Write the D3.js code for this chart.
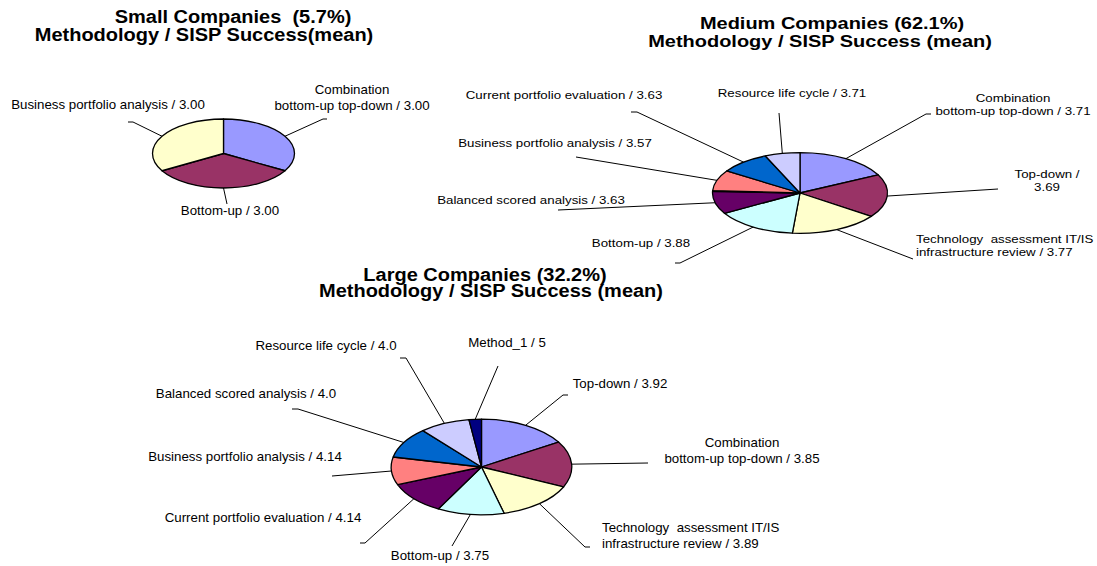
<!DOCTYPE html>
<html>
<head>
<meta charset="utf-8">
<script src="https://cdn.jsdelivr.net/npm/d3@7"></script>
<style>
  body { margin: 0; background: #fff; }
  svg { display: block; font-family: "Liberation Sans", Arial, sans-serif; }
  text { white-space: pre; }
</style>
</head>
<body>
<div class="chart"></div>
<script>
// ---- data (slice shares, labels as printed) ----
const smallLabels = [
  "Combination\nbottom-up top-down / 3.00",
  "Bottom-up / 3.00",
  "Business portfolio analysis / 3.00",
];
const smallShares = [120, 120, 120];
const smallColors = ["#9999FF", "#993366", "#FFFFCC"];

const mediumLabels = [
  "Combination\nbottom-up top-down / 3.71",
  "Top-down /\n3.69",
  "Technology  assessment IT/IS\ninfrastructure review / 3.77",
  "Bottom-up / 3.88",
  "Balanced scored analysis / 3.63",
  "",
  "Business portfolio analysis / 3.57",
  "Current portfolio evaluation / 3.63",
  "Resource life cycle / 3.71",
];
const mediumShares = [63.2, 62.3, 59.5, 54.7, 32.6, 1.2, 29.6, 33.6, 23.3];
const mediumColors = ["#9999FF", "#993366", "#FFFFCC", "#CCFFFF", "#660066", "#000080", "#FF8080", "#0066CC", "#CCCCFF"];

const largeLabels = [
  "Top-down / 3.92",
  "Combination\nbottom-up top-down / 3.85",
  "Technology  assessment IT/IS\ninfrastructure review / 3.89",
  "Bottom-up / 3.75",
  "Current portfolio evaluation / 4.14",
  "Business portfolio analysis / 4.14",
  "Balanced scored analysis / 4.0",
  "Resource life cycle / 4.0",
  "Method_1 / 5",
];
const largeShares = [58.5, 56.2, 50.8, 43.1, 39.7, 33.8, 37.4, 32.5, 8];
const largeColors = ["#9999FF", "#993366", "#FFFFCC", "#CCFFFF", "#660066", "#FF8080", "#0066CC", "#CCCCFF", "#000080"];

const smallTitle = ["Small Companies  (5.7%)", "Methodology / SISP Success(mean)"];
const mediumTitle = ["Medium Companies (62.1%)", "Methodology / SISP Success (mean)"];
const largeTitle = ["Large Companies (32.2%)", "Methodology / SISP Success (mean)"];

// ---- layout ----
const width = 1097;
const height = 566;

const svg = d3
  .select(".chart")
  .append("svg")
  .attr("width", width)
  .attr("height", height);

// label placement: leader bend point, hook length, text anchor point
const smallLayout = [
  { bend: [323, 119], hook: 4, tx: 352, ty: 94, anchor: "middle", lh: 16 },
  { bend: [227, 204], hook: 0, tx: 230, ty: 215, anchor: "middle", lh: 16 },
  { bend: [133, 122], hook: -5, tx: 108, ty: 108.5, anchor: "middle", lh: 16 },
];
const mediumLayout = [
  { bend: [926, 114], hook: 5, tx: 1013, ty: 101.5, anchor: "middle", lh: 14 },
  { bend: [998, 189], hook: 0, tx: 1047, ty: 178, anchor: "middle", lh: 13 },
  { bend: [913, 259], hook: 0, tx: 916, ty: 242.7, anchor: "start", lh: 13.5 },
  { bend: [680, 263], hook: -5, tx: 641, ty: 246.5, anchor: "middle", lh: 14 },
  { bend: [558, 210], hook: 0, tx: 531, ty: 204, anchor: "middle", lh: 14 },
  null,
  { bend: [576, 157], hook: 0, tx: 555, ty: 146.7, anchor: "middle", lh: 14 },
  { bend: [637, 112], hook: -6, tx: 564, ty: 99, anchor: "middle", lh: 14 },
  { bend: [779, 113], hook: 0, tx: 792, ty: 96.7, anchor: "middle", lh: 14 },
];
const largeLayout = [
  { bend: [563, 395], hook: 5, tx: 620, ty: 388.3, anchor: "middle", lh: 16.6 },
  { bend: [648, 463], hook: 0, tx: 742, ty: 446.7, anchor: "middle", lh: 16.6 },
  { bend: [585, 547], hook: 5, tx: 602, ty: 531.7, anchor: "start", lh: 16.6 },
  { bend: [452, 546], hook: 0, tx: 440, ty: 559.5, anchor: "middle", lh: 16.6 },
  { bend: [365, 543], hook: -5, tx: 263, ty: 521.7, anchor: "middle", lh: 16.6 },
  { bend: [332, 476], hook: 0, tx: 245, ty: 460.7, anchor: "middle", lh: 16.6 },
  { bend: [298, 409], hook: -6, tx: 246, ty: 398, anchor: "middle", lh: 16.6 },
  { bend: [406, 358], hook: -6, tx: 326, ty: 350, anchor: "middle", lh: 16.6 },
  { bend: [498, 366], hook: 0, tx: 507, ty: 347, anchor: "middle", lh: 16.6 },
];

// multi-line text, optionally squashed vertically like the source image
function addText(g, str, x, y, opts) {
  const sy = opts.sy || 1;
  const t = g
    .append("text")
    .attr("transform", `translate(${x},${y}) scale(1,${sy})`)
    .attr("text-anchor", opts.anchor || "middle")
    .attr("xml:space", "preserve")
    .style("font-size", opts.size + "px")
    .style("font-weight", opts.bold ? "bold" : "normal")
    .attr("fill", "#000");
  str.split("\n").forEach((line, i) => {
    t.append("tspan")
      .attr("x", 0)
      .attr("dy", i === 0 ? 0 : (opts.lh || 16) / sy)
      .text(line);
  });
  return t;
}

function drawPie(cfg) {
  const g = svg.append("g");

  // title lines
  cfg.title.forEach((line, i) => {
    addText(g, line, cfg.titleX[i], cfg.titleY[i], { size: 20, bold: true, sy: cfg.titleSy });
  });

  const pie = d3.pie().sort(null).value((d) => d)(cfg.shares);
  const arc = d3.arc().innerRadius(0).outerRadius(cfg.rx);

  // ellipse = circle pie squashed vertically
  const pg = g
    .append("g")
    .attr("transform", `translate(${cfg.cx},${cfg.cy}) scale(1,${cfg.ry / cfg.rx})`);

  pg.selectAll("path")
    .data(pie)
    .enter()
    .append("path")
    .attr("d", arc)
    .attr("fill", (d, i) => cfg.colors[i])
    .attr("stroke", "#000")
    .attr("stroke-width", 1.3)
    .attr("stroke-linejoin", "round")
    .attr("vector-effect", "non-scaling-stroke");

  // leader lines + labels
  pie.forEach((d, i) => {
    const lay = cfg.layout[i];
    if (!lay || !cfg.labels[i]) return;
    const mid = (d.startAngle + d.endAngle) / 2;
    const ex = cfg.cx + cfg.rx * Math.sin(mid);
    const ey = cfg.cy - cfg.ry * Math.cos(mid);
    const pts = [[ex, ey], lay.bend];
    if (lay.hook) pts.push([lay.bend[0] + lay.hook, lay.bend[1]]);
    g.append("path")
      .attr("d", d3.line()(pts))
      .attr("fill", "none")
      .attr("stroke", "#000")
      .attr("stroke-width", 1);
    addText(g, cfg.labels[i], lay.tx, lay.ty, {
      size: 13.3,
      anchor: lay.anchor,
      lh: lay.lh,
      sy: cfg.labelSy,
    });
  });
}

drawPie({
  title: smallTitle, titleX: [233, 204], titleY: [23, 41], titleSy: 0.95,
  shares: smallShares, colors: smallColors, labels: smallLabels, layout: smallLayout,
  cx: 223.5, cy: 153.5, rx: 71, ry: 34.5, labelSy: 1,
});

drawPie({
  title: mediumTitle, titleX: [832, 820], titleY: [29, 46.5], titleSy: 0.82,
  shares: mediumShares, colors: mediumColors, labels: mediumLabels, layout: mediumLayout,
  cx: 800, cy: 193, rx: 87.5, ry: 40.3, labelSy: 0.82,
});

drawPie({
  title: largeTitle, titleX: [485, 491], titleY: [281, 296.5], titleSy: 0.88,
  shares: largeShares, colors: largeColors, labels: largeLabels, layout: largeLayout,
  cx: 481.5, cy: 467, rx: 90.3, ry: 47.8, labelSy: 0.95,
});
</script>
</body>
</html>
